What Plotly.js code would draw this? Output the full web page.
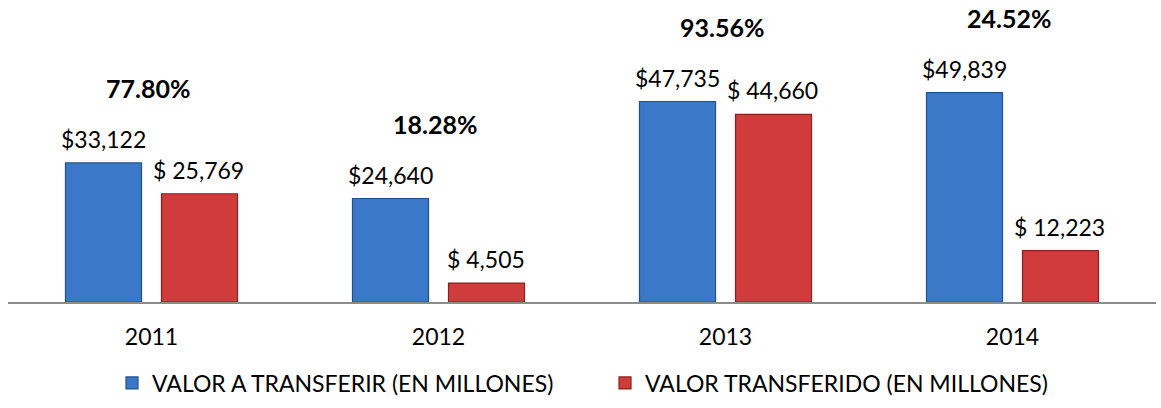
<!DOCTYPE html>
<html>
<head>
<meta charset="utf-8">
<script src="https://cdn.plot.ly/plotly-3.0.1.min.js"></script>
<style>html,body{margin:0;padding:0;background:#fff;}#chart{width:1161px;height:408px;}</style>
</head>
<body>
<div id="chart"></div>
<script>
const years = ["2011", "2012", "2013", "2014"];
const valorATransferir = [33122, 24640, 47735, 49839];
const valorTransferido = [25769, 4505, 44660, 12223];
const porcentajes = ["77.80%", "18.28%", "93.56%", "24.52%"];
const seriesNames = ["VALOR A TRANSFERIR (EN MILLONES)", "VALOR TRANSFERIDO (EN MILLONES)"];

const FONT = "Lato, 'Open Sans', sans-serif";
const fmt = v => v.toLocaleString("en-US");

const traces = [
  {
    type: "bar",
    name: seriesNames[0],
    x: years,
    y: valorATransferir,
    marker: { color: "#3b78c8", line: { color: "#22508c", width: 1.2 } },
    hoverinfo: "skip"
  },
  {
    type: "bar",
    name: seriesNames[1],
    x: years,
    y: valorTransferido,
    marker: { color: "#d03c3c", line: { color: "#8a2020", width: 1.2 } },
    hoverinfo: "skip"
  }
];

const annotations = [];
years.forEach((yr, i) => {
  annotations.push({
    x: i, y: valorATransferir[i], xref: "x", yref: "y",
    text: "$" + fmt(valorATransferir[i]),
    showarrow: false, yanchor: "middle", xshift: -48, yshift: 24,
    font: { family: FONT, size: 23, color: "#000" }
  });
  annotations.push({
    x: i, y: valorTransferido[i], xref: "x", yref: "y",
    text: "$ " + fmt(valorTransferido[i]),
    showarrow: false, yanchor: "middle", xshift: 47, yshift: 24,
    font: { family: FONT, size: 23, color: "#000" }
  });
  annotations.push({
    x: i, y: valorATransferir[i], xref: "x", yref: "y",
    text: "<b>" + porcentajes[i] + "</b>",
    showarrow: false, yanchor: "middle", xshift: -4, yshift: 75,
    font: { family: FONT, size: 25, color: "#000" }
  });
});

const layout = {
  width: 1161,
  height: 408,
  margin: { l: 8, r: 5, t: 0, b: 106 },
  paper_bgcolor: "#fff",
  plot_bgcolor: "#fff",
  barmode: "group",
  bargap: 0.331,
  bargroupgap: 0.208,
  showlegend: true,
  legend: {
    orientation: "h",
    x: 0.0906,
    xanchor: "left",
    y: -0.268,
    yanchor: "middle",
    bgcolor: "rgba(0,0,0,0)",
    font: { family: FONT, size: 23, color: "#000" },
    itemwidth: 30,
    entrywidth: 448,
    entrywidthmode: "pixels",
    tracegroupgap: 0
  },
  xaxis: {
    type: "category",
    range: [-0.5, 3.5],
    autorange: false,
    showline: true,
    linecolor: "#8c8c8c",
    linewidth: 1.5,
    ticks: "",
    showgrid: false,
    zeroline: false,
    ticklabelstandoff: 14,
    tickfont: { family: FONT, size: 23, color: "#000" }
  },
  yaxis: {
    range: [0, 71900],
    autorange: false,
    visible: false,
    showgrid: false,
    zeroline: false
  },
  annotations: annotations
};

Plotly.newPlot("chart", traces, layout, { staticPlot: true, displayModeBar: false });
</script>
</body>
</html>
